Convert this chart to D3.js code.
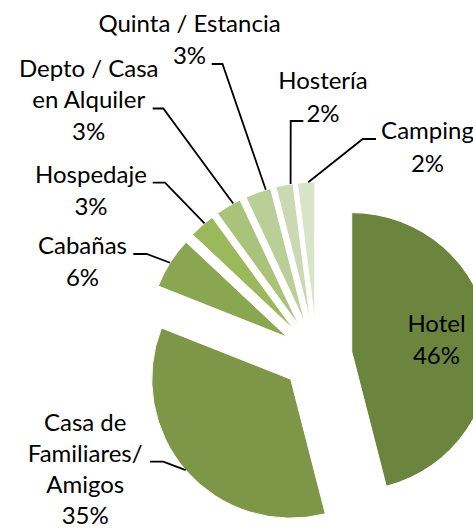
<!DOCTYPE html>
<html>
<head>
<meta charset="utf-8">
<script src="https://cdn.jsdelivr.net/npm/d3@7"></script>
<style>
  html, body { margin: 0; padding: 0; background: #fff; }
  svg { display: block; }
  text { font-family: Lato, "Open Sans", sans-serif; fill: #000; }
</style>
</head>
<body>
<svg id="chart" width="473" height="529"></svg>
<script>
// ---- data ----
const categories = ["Hotel", "Casa de Familiares/ Amigos", "Cabañas", "Hospedaje",
                    "Depto / Casa en Alquiler", "Quinta / Estancia", "Hostería", "Camping"];
const values = [46, 35, 6, 3, 3, 3, 2, 2];
const labelLines = [
  ["Hotel"],
  ["Casa de", "Familiares/", "Amigos"],
  ["Cabañas"],
  ["Hospedaje"],
  ["Depto / Casa", "en Alquiler"],
  ["Quinta / Estancia"],
  ["Hostería"],
  ["Camping"]
];
const colors = ["#6C853E", "#7E9647", "#8BA651", "#9BB85B", "#A9C47A", "#BACE98", "#CAD9B2", "#D8E3C8"];

// ---- layout ----
const W = 473, H = 529;
const cx = 317, cy = 356, R = 139, explode = 35;
const fontSize = 24;
// label anchor: centre x, first baseline y, line step; leader: start, elbow, attach fraction in slice
const labelPos = [
  {x: 436.5, y: 332,   step: 32,   leader: null},
  {x: 85.2,  y: 430.5, step: 31.3, leader: {sx: 150,   ex: 163.3, y: 461.7, f: 0.504}},
  {x: 82.5,  y: 254,   step: 32,   leader: {sx: 133.3, ex: 146.7, y: 254,   f: 0.5}},
  {x: 91,    y: 182.7, step: 32,   leader: {sx: 152.7, ex: 165,   y: 182.7, f: 0.63}},
  {x: 88.7,  y: 76.7,  step: 31.5, leader: {sx: 152.7, ex: 163.3, y: 108.5, f: 0.71}},
  {x: 189.5, y: 31.7,  step: 32.3, leader: {sx: 211.7, ex: 222.5, y: 64,    f: 0.81}},
  {x: 323,   y: 89.3,  step: 32.5, leader: {sx: 303.3, ex: 290.7, y: 121,   f: 0.86}},
  {x: 427.5, y: 139,   step: 32.5, leader: {sx: 376,   ex: 362.7, y: 139,   f: 0.625}}
];

const svg = d3.select("#chart");
const total = d3.sum(values);
const pie = d3.pie().sort(null).value(d => d);
const arcs = pie(values);
const arc = d3.arc().innerRadius(0).outerRadius(R);

const g = svg.append("g").attr("transform", `translate(${cx},${cy})`);

arcs.forEach((a, i) => {
  const mid = (a.startAngle + a.endAngle) / 2;
  const ox = explode * Math.sin(mid), oy = -explode * Math.cos(mid);
  a.ox = ox; a.oy = oy;
  g.append("path")
    .attr("d", arc(a))
    .attr("transform", `translate(${ox},${oy})`)
    .attr("fill", colors[i])
    .attr("stroke", "#fff")
    .attr("stroke-width", 1);
});

// leader lines
arcs.forEach((a, i) => {
  const L = labelPos[i].leader;
  if (!L) return;
  const ang = a.startAngle + (a.endAngle - a.startAngle) * L.f;
  const px = cx + a.ox + R * Math.sin(ang);
  const py = cy + a.oy - R * Math.cos(ang);
  svg.append("path")
    .attr("d", d3.line()([[L.sx, L.y], [L.ex, L.y], [px, py]]))
    .attr("fill", "none")
    .attr("stroke", "#000")
    .attr("stroke-width", 1.8);
});

// labels
arcs.forEach((a, i) => {
  const p = labelPos[i];
  const lines = labelLines[i].concat([Math.round(values[i] / total * 100) + "%"]);
  const t = svg.append("text")
    .attr("text-anchor", "middle")
    .attr("font-size", fontSize);
  lines.forEach((s, k) => {
    t.append("tspan").attr("x", p.x).attr("y", p.y + k * p.step).text(s);
  });
});
</script>
</body>
</html>
